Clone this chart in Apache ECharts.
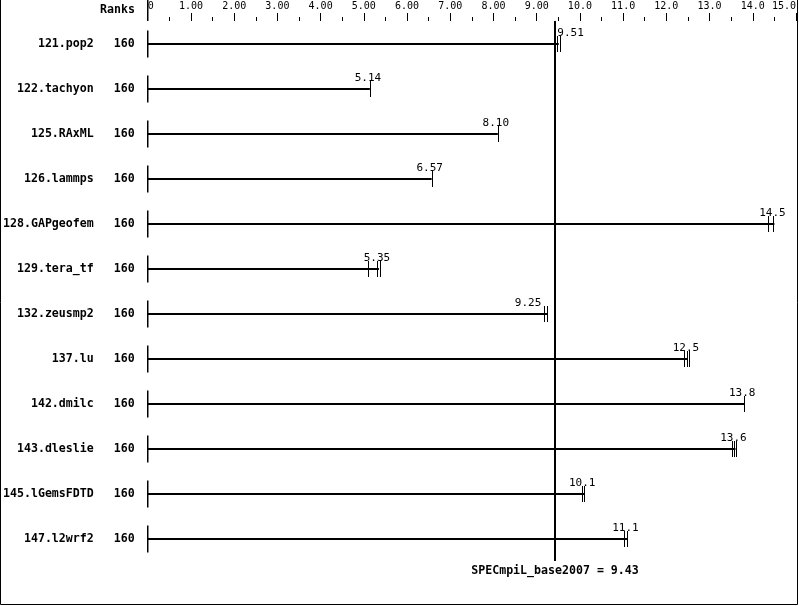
<!DOCTYPE html>
<html>
<head>
<meta charset="utf-8">
<script src="https://cdn.jsdelivr.net/npm/echarts@6/dist/echarts.min.js"></script>
<style>
html,body{margin:0;padding:0;background:#fff;}
#chart{width:799px;height:606px;}
</style>
</head>
<body>
<div id="chart"></div>
<script>
// ---- data ----
const benchmarks = ['121.pop2','122.tachyon','125.RAxML','126.lammps','128.GAPgeofem','129.tera_tf','132.zeusmp2','137.lu','142.dmilc','143.dleslie','145.lGemsFDTD','147.l2wrf2'];
const ranks = [160,160,160,160,160,160,160,160,160,160,160,160];
const ratios = [9.51,5.14,8.10,6.57,14.5,5.35,9.25,12.5,13.8,13.6,10.1,11.1];
const runs = [
  [9.47,9.53],[5.14],[8.10],[6.57],[14.35,14.46],[5.09,5.31,5.37],
  [9.18,9.23],[12.42,12.48,12.53],[13.8],[13.52,13.57,13.61],[10.05,10.1],[11.03,11.09]
];
const tickLabels = ['0','1.00','2.00','3.00','4.00','5.00','6.00','7.00','8.00','9.00','10.0','11.0','12.0','13.0','14.0','15.0'];
const baseName = 'SPECmpiL_base2007';
const baseValue = 9.43;
const rankHeader = 'Ranks';

const MONO = '"DejaVu Sans Mono", "Liberation Mono", monospace';
const chart = echarts.init(document.getElementById('chart'), null, {renderer:'canvas'});

function rowItem(params, api) {
  const i = api.value(1);
  const v = ratios[i];
  const p0 = api.coord([0, i]);
  const pv = api.coord([v, i]);
  const pr = api.coord([baseValue, i]);
  const y = Math.round(p0[1]);
  const children = [];
  children.push({type:'line', shape:{x1:p0[0], y1:y-13.5, x2:p0[0], y2:y+13.5}, style:{stroke:'#000', lineWidth:1.5}});
  children.push({type:'line', shape:{x1:p0[0], y1:y, x2:pv[0], y2:y}, style:{stroke:'#000', lineWidth:2}});
  runs[i].forEach(r => {
    const px = Math.round(api.coord([r, i])[0]) + 0.5;
    children.push({type:'line', shape:{x1:px, y1:y-8, x2:px, y2:y+8}, style:{stroke:'#000', lineWidth:1}});
  });
  const txt = v.toPrecision(3);
  const w = txt.length * 6.6;
  let tx = pv[0] - 2, align = 'center';
  if (Math.abs(pv[0] - pr[0]) < w/2 + 2) {
    if (v >= baseValue) { tx = pr[0] + 2; align = 'left'; }
    else { tx = pr[0] - 14; align = 'right'; }
  }
  children.push({type:'text', style:{text:txt, x:tx, y:y-11, align:align, verticalAlign:'middle', fill:'#000', font:'11px ' + MONO}});
  return {type:'group', children};
}

function refItem(params, api) {
  const cs = params.coordSys;
  const pr = api.coord([baseValue, 0]);
  const p0 = api.coord([0, 0]);
  const x = Math.round(pr[0]);
  return {type:'group', children:[
    {type:'line', shape:{x1:x, y1:cs.y, x2:x, y2:cs.y+cs.height}, style:{stroke:'#000', lineWidth:2}},
    {type:'line', shape:{x1:p0[0], y1:0, x2:p0[0], y2:cs.y}, style:{stroke:'#000', lineWidth:1.5}},
    {type:'text', style:{text:baseName + ' = ' + baseValue.toFixed(2), x:x, y:cs.y+cs.height+10, align:'center', verticalAlign:'middle', fill:'#000', font:'bold 11.6px ' + MONO}}
  ]};
}

const option = {
  animation:false,
  backgroundColor:'#fff',
  grid:{left:147, right:2, top:21, height:540, containLabel:false},
  xAxis:{
    type:'value', position:'top', min:0, max:15, interval:1,
    axisLine:{show:false},
    axisTick:{show:true, length:8, lineStyle:{color:'#000', width:1}},
    minorTick:{show:true, splitNumber:2, length:4, lineStyle:{color:'#000', width:1}},
    splitLine:{show:false},
    axisLabel:{
      margin:10, color:'#000', fontSize:10, fontFamily:MONO,
      alignMinLabel:'left', alignMaxLabel:'right',
      formatter:(val)=>tickLabels[Math.round(val)]
    }
  },
  yAxis:{
    type:'category', inverse:true, data:benchmarks,
    axisLine:{show:false}, axisTick:{show:false}, splitLine:{show:false},
    axisLabel:{
      margin:13, color:'#000',
      formatter:(val, idx)=>'{n|' + val + '}{r|' + ranks[idx] + '}',
      rich:{
        n:{fontFamily:MONO, fontWeight:'bold', fontSize:11.6, color:'#000'},
        r:{fontFamily:MONO, fontWeight:'bold', fontSize:11.6, color:'#000', width:41, align:'right'}
      }
    }
  },
  graphic:[
    {type:'text', style:{text:rankHeader, x:135, y:10, align:'right', verticalAlign:'middle', fill:'#000', font:'bold 11.6px ' + MONO}},
    {type:'polyline', shape:{points:[[0.5,0],[0.5,604.5],[797.5,604.5],[797.5,0]]}, style:{stroke:'#000', fill:null, lineWidth:1}}
  ],
  series:[
    {type:'custom', renderItem:rowItem, data:ratios.map((v,i)=>[v,i]), encode:{x:0,y:1}, clip:false, silent:true},
    {type:'custom', renderItem:refItem, data:[[baseValue,0]], encode:{x:0,y:1}, clip:false, silent:true, z:3}
  ]
};
chart.setOption(option);
</script>
</body>
</html>
